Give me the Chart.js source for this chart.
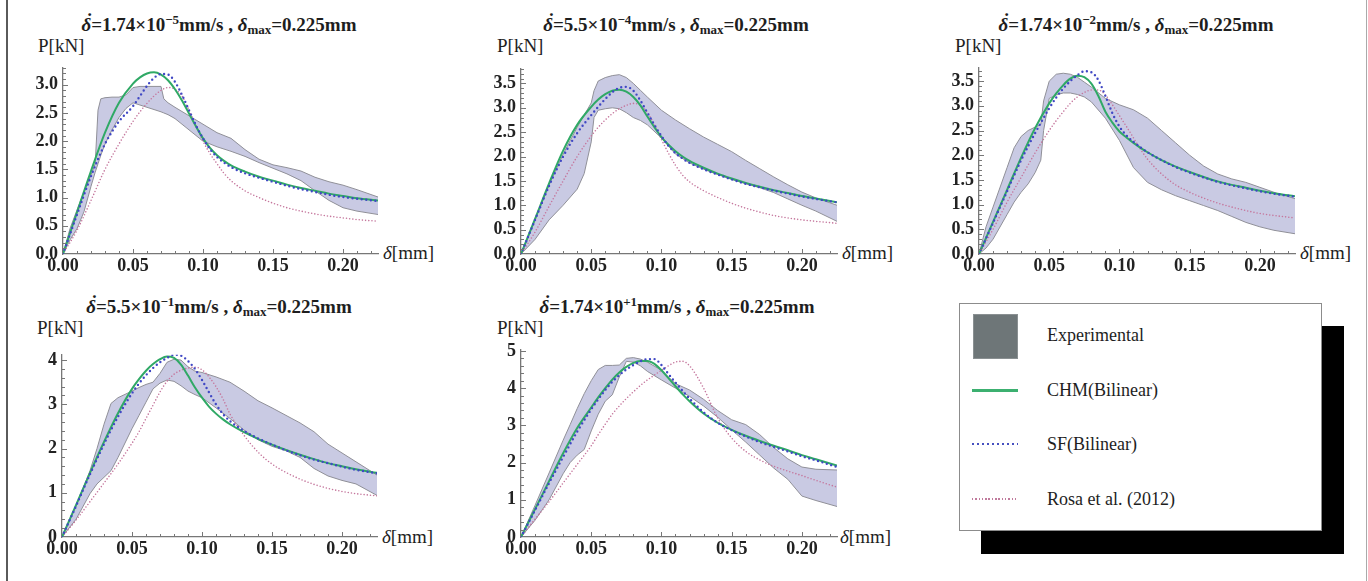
<!DOCTYPE html>
<html>
<head>
<meta charset="utf-8">
<title>P-delta curves</title>
<script src="https://cdn.jsdelivr.net/npm/chart.js@4.4.1/dist/chart.umd.min.js"></script>
<style>
  body { margin: 0; background: #fff; }
  #page { position: relative; width: 1368px; height: 581px; overflow: hidden;
          font-family: "Liberation Serif", "Times New Roman", serif; color: #1e1e1e; }
  .edge { position: absolute; top: 0; height: 581px; }
  canvas { position: absolute; }
  .ttl { position: absolute; width: 400px; text-align: center; font-weight: bold;
         font-size: 19px; line-height: 19px; white-space: nowrap; }
  .ttl sup, .ttl sub { font-size: 13px; position: relative; vertical-align: baseline; line-height: 0; }
  .ttl sup { top: -7px; }
  .ttl sub { top: 3px; }
  .dd { position: relative; }
  .dd .dot { position: absolute; left: 5px; top: -4px; font-style: normal; }
  .ax { position: absolute; font-size: 19px; line-height: 19px; white-space: nowrap; }
  #legend { position: absolute; left: 959px; top: 303px; width: 361px; height: 226px;
            background: #fff; border: 1px solid #8c8c8c; box-shadow: 22px 23px 0 0 #000; }
  #legend .sw { position: absolute; left: 13px; top: 10px; width: 43px; height: 43px;
                background: #6e7678; border: 1px solid #8a9092; }
  #legend .ln { position: absolute; left: 12px; width: 46px; }
  #legend .tx { position: absolute; left: 87px; font-size: 18px; line-height: 18px; white-space: nowrap; }
</style>
</head>
<body>
<div id="page">
  <div class="edge" style="left:6px;width:2px;background:#5a5a5a"></div>
  <div class="edge" style="left:1366px;width:1px;background:#aaa"></div>

  <div class="ttl" style="left:19px;top:15px"><span class="dd"><i>δ</i><span class="dot">˙</span></span>=1.74×10<sup>−5</sup>mm/s , <i>δ</i><sub>max</sub>=0.225mm</div>
  <div class="ttl" style="left:476px;top:15px"><span class="dd"><i>δ</i><span class="dot">˙</span></span>=5.5×10<sup>−4</sup>mm/s , <i>δ</i><sub>max</sub>=0.225mm</div>
  <div class="ttl" style="left:936px;top:15px"><span class="dd"><i>δ</i><span class="dot">˙</span></span>=1.74×10<sup>−2</sup>mm/s , <i>δ</i><sub>max</sub>=0.225mm</div>
  <div class="ttl" style="left:19px;top:297px"><span class="dd"><i>δ</i><span class="dot">˙</span></span>=5.5×10<sup>−1</sup>mm/s , <i>δ</i><sub>max</sub>=0.225mm</div>
  <div class="ttl" style="left:477px;top:297px"><span class="dd"><i>δ</i><span class="dot">˙</span></span>=1.74×10<sup>+1</sup>mm/s , <i>δ</i><sub>max</sub>=0.225mm</div>

  <div class="ax" style="left:38px;top:36px">P[kN]</div>
  <div class="ax" style="left:497px;top:36px">P[kN]</div>
  <div class="ax" style="left:955px;top:36px">P[kN]</div>
  <div class="ax" style="left:37px;top:318px">P[kN]</div>
  <div class="ax" style="left:497px;top:318px">P[kN]</div>

  <div class="ax" style="left:383px;top:243px"><i>δ</i>[mm]</div>
  <div class="ax" style="left:842px;top:243px"><i>δ</i>[mm]</div>
  <div class="ax" style="left:1300px;top:243px"><i>δ</i>[mm]</div>
  <div class="ax" style="left:382px;top:527px"><i>δ</i>[mm]</div>
  <div class="ax" style="left:840px;top:527px"><i>δ</i>[mm]</div>

  <div id="legend">
    <div class="sw"></div>
    <div class="tx" style="top:22px">Experimental</div>
    <div class="ln" style="top:85px;height:3px;background:#3cb070"></div>
    <div class="tx" style="top:77px">CHM(Bilinear)</div>
    <div class="ln" style="top:139px;height:2px;background:repeating-linear-gradient(90deg,#4650c0 0 2px,transparent 2px 5px)"></div>
    <div class="tx" style="top:131px">SF(Bilinear)</div>
    <div class="ln" style="top:194px;height:2px;background:repeating-linear-gradient(90deg,#c07a9c 0 1.5px,transparent 1.5px 3.3px)"></div>
    <div class="tx" style="top:186px">Rosa et al. (2012)</div>
  </div>
</div>

<script>
// displacement grid shared by the three model curves [mm]
const deltaGrid = [0, 0.01, 0.02, 0.03, 0.04, 0.05, 0.055, 0.06, 0.065, 0.07, 0.075, 0.08, 0.085, 0.09, 0.095,
                   0.10, 0.105, 0.11, 0.115, 0.12, 0.13, 0.14, 0.15, 0.16, 0.17, 0.18, 0.19, 0.20, 0.21, 0.225];
const xTicks = [0, 0.05, 0.10, 0.15, 0.20];

// rate 1.74e-5 mm/s
const chm1  = [0, 0.74, 1.47, 2.15, 2.68, 3.02, 3.13, 3.2, 3.22, 3.18, 3.08, 2.92, 2.72, 2.49, 2.26, 2.05, 1.88, 1.75, 1.65, 1.57, 1.46, 1.37, 1.3, 1.23, 1.17, 1.12, 1.07, 1.03, 0.99, 0.95];
const sf1   = [0, 0.7, 1.38, 1.95, 2.35, 2.62, 2.8, 2.98, 3.12, 3.19, 3.18, 3.05, 2.82, 2.55, 2.28, 2.05, 1.86, 1.72, 1.62, 1.54, 1.43, 1.35, 1.28, 1.21, 1.15, 1.1, 1.05, 1.01, 0.98, 0.94];
const rosa1 = [0, 0.42, 0.95, 1.5, 1.95, 2.35, 2.52, 2.67, 2.8, 2.9, 2.95, 2.92, 2.8, 2.55, 2.27, 2.0, 1.78, 1.6, 1.43, 1.3, 1.12, 1.0, 0.9, 0.82, 0.76, 0.71, 0.67, 0.64, 0.61, 0.58];
const expX1  = [0, 0.005, 0.01, 0.015, 0.02, 0.023, 0.025, 0.027, 0.03, 0.035, 0.04, 0.045, 0.05, 0.055, 0.06, 0.065, 0.07, 0.072, 0.075, 0.08, 0.09, 0.10, 0.11, 0.12, 0.13, 0.14, 0.15, 0.16, 0.17, 0.18, 0.19, 0.20, 0.21, 0.225];
const expHi1 = [0, 0.45, 0.78, 1.1, 1.4, 1.6, 2.55, 2.75, 2.77, 2.78, 2.78, 2.82, 2.95, 2.97, 2.97, 2.97, 2.97, 2.75, 2.68, 2.6, 2.45, 2.3, 2.15, 2.05, 1.85, 1.68, 1.58, 1.53, 1.47, 1.36, 1.28, 1.22, 1.14, 1.01];
const expLo1 = [0, 0.25, 0.45, 0.75, 1.2, 1.45, 1.6, 1.75, 1.95, 2.2, 2.42, 2.58, 2.68, 2.64, 2.6, 2.56, 2.52, 2.5, 2.47, 2.4, 2.2, 2.0, 1.9, 1.82, 1.73, 1.62, 1.52, 1.42, 1.3, 1.12, 0.95, 0.82, 0.76, 0.7];
const yTicks1 = [0, 0.5, 1, 1.5, 2, 2.5, 3];

// rate 5.5e-4 mm/s
const chm2  = [0, 0.72, 1.45, 2.12, 2.65, 3.02, 3.17, 3.28, 3.35, 3.37, 3.33, 3.22, 3.05, 2.82, 2.6, 2.4, 2.24, 2.11, 2.0, 1.91, 1.77, 1.65, 1.55, 1.46, 1.38, 1.31, 1.25, 1.19, 1.14, 1.06];
const sf2   = [0, 0.7, 1.4, 2.0, 2.48, 2.85, 3.02, 3.18, 3.32, 3.41, 3.43, 3.35, 3.15, 2.9, 2.65, 2.42, 2.22, 2.07, 1.96, 1.87, 1.74, 1.63, 1.53, 1.44, 1.37, 1.3, 1.24, 1.18, 1.13, 1.06];
const rosa2 = [0, 0.45, 0.98, 1.5, 2.0, 2.42, 2.6, 2.75, 2.88, 2.98, 3.05, 3.09, 3.05, 2.9, 2.65, 2.35, 2.07, 1.82, 1.62, 1.48, 1.3, 1.16, 1.04, 0.94, 0.86, 0.79, 0.74, 0.7, 0.67, 0.63];
const expX2  = [0, 0.01, 0.02, 0.03, 0.04, 0.045, 0.05, 0.052, 0.055, 0.06, 0.065, 0.07, 0.075, 0.08, 0.085, 0.09, 0.10, 0.11, 0.12, 0.13, 0.14, 0.15, 0.16, 0.17, 0.18, 0.19, 0.20, 0.21, 0.225];
const expHi2 = [0, 0.7, 1.42, 2.05, 2.6, 2.85, 3.1, 3.35, 3.55, 3.62, 3.66, 3.68, 3.62, 3.5, 3.36, 3.22, 2.95, 2.75, 2.57, 2.4, 2.25, 2.1, 1.92, 1.75, 1.58, 1.42, 1.27, 1.15, 1.0];
const expLo2 = [0, 0.3, 0.7, 1.0, 1.33, 1.65, 2.3, 2.8, 2.95, 2.98, 3.0, 2.98, 2.9, 2.8, 2.74, 2.65, 2.38, 2.05, 1.87, 1.74, 1.63, 1.53, 1.44, 1.36, 1.26, 1.13, 1.0, 0.88, 0.67];
const yTicks2 = [0, 0.5, 1, 1.5, 2, 2.5, 3, 3.5];

// rate 1.74e-2 mm/s
const chm3  = [0, 0.65, 1.3, 1.95, 2.55, 3.05, 3.25, 3.42, 3.55, 3.61, 3.58, 3.45, 3.2, 2.88, 2.66, 2.48, 2.36, 2.25, 2.15, 2.06, 1.9, 1.77, 1.66, 1.56, 1.47, 1.4, 1.34, 1.28, 1.23, 1.17];
const sf3   = [0, 0.63, 1.27, 1.9, 2.45, 2.95, 3.17, 3.35, 3.5, 3.62, 3.7, 3.68, 3.52, 3.2, 2.85, 2.58, 2.4, 2.27, 2.16, 2.06, 1.9, 1.76, 1.65, 1.55, 1.46, 1.39, 1.33, 1.27, 1.22, 1.16];
const rosa3 = [0, 0.5, 1.05, 1.55, 2.05, 2.5, 2.7, 2.88, 3.05, 3.18, 3.27, 3.32, 3.32, 3.22, 3.02, 2.8, 2.58, 2.35, 2.12, 1.92, 1.62, 1.4, 1.25, 1.13, 1.03, 0.95, 0.88, 0.82, 0.78, 0.73];
const expX3  = [0, 0.005, 0.01, 0.02, 0.025, 0.03, 0.035, 0.04, 0.044, 0.046, 0.05, 0.055, 0.06, 0.065, 0.07, 0.075, 0.08, 0.09, 0.10, 0.11, 0.12, 0.13, 0.14, 0.15, 0.16, 0.17, 0.18, 0.19, 0.20, 0.21, 0.225];
const expHi3 = [0, 0.55, 0.95, 1.75, 2.15, 2.38, 2.5, 2.57, 2.62, 3.1, 3.5, 3.64, 3.66, 3.64, 3.58, 3.48, 3.38, 3.15, 3.02, 2.92, 2.75, 2.5, 2.25, 2.0, 1.78, 1.62, 1.52, 1.45, 1.35, 1.25, 1.12];
const expLo3 = [0, 0.12, 0.3, 0.8, 1.05, 1.25, 1.42, 1.65, 1.9, 2.5, 3.15, 3.22, 3.26, 3.26, 3.23, 3.18, 3.08, 2.75, 2.3, 1.75, 1.45, 1.3, 1.18, 1.08, 0.98, 0.88, 0.76, 0.64, 0.55, 0.48, 0.41];
const yTicks3 = [0, 0.5, 1, 1.5, 2, 2.5, 3, 3.5];

// rate 5.5e-1 mm/s
const chm4  = [0, 0.72, 1.45, 2.15, 2.8, 3.35, 3.57, 3.76, 3.91, 4.02, 4.08, 4.05, 3.9, 3.65, 3.38, 3.15, 2.95, 2.79, 2.66, 2.55, 2.37, 2.22, 2.09, 1.97, 1.86, 1.76, 1.67, 1.6, 1.53, 1.45];
const sf4   = [0, 0.7, 1.42, 2.1, 2.72, 3.25, 3.47, 3.66, 3.82, 3.95, 4.05, 4.12, 4.1, 3.98, 3.8, 3.55, 3.27, 3.0, 2.78, 2.62, 2.4, 2.23, 2.09, 1.96, 1.85, 1.75, 1.67, 1.59, 1.52, 1.44];
const rosa4 = [0, 0.38, 0.8, 1.22, 1.65, 2.12, 2.38, 2.68, 2.98, 3.28, 3.52, 3.68, 3.77, 3.82, 3.84, 3.78, 3.62, 3.4, 3.12, 2.78, 2.3, 1.92, 1.65, 1.46, 1.31, 1.19, 1.1, 1.03, 0.98, 0.93];
const expX4  = [0, 0.01, 0.02, 0.025, 0.03, 0.035, 0.04, 0.05, 0.055, 0.06, 0.065, 0.07, 0.075, 0.08, 0.085, 0.09, 0.095, 0.10, 0.11, 0.12, 0.13, 0.14, 0.15, 0.16, 0.17, 0.18, 0.19, 0.20, 0.21, 0.225];
const expHi4 = [0, 0.7, 1.5, 2.0, 2.55, 3.02, 3.15, 3.3, 3.38, 3.45, 3.5, 3.7, 3.95, 4.02, 4.0, 3.85, 3.75, 3.72, 3.62, 3.5, 3.3, 3.08, 2.92, 2.75, 2.58, 2.38, 2.1, 1.9, 1.7, 1.4];
const expLo4 = [0, 0.4, 0.98, 1.2, 1.35, 1.5, 1.8, 2.45, 2.75, 3.05, 3.35, 3.48, 3.55, 3.52, 3.42, 3.3, 3.22, 3.15, 2.92, 2.68, 2.42, 2.2, 2.05, 1.95, 1.8, 1.55, 1.38, 1.28, 1.2, 0.94];
const yTicks4 = [0, 1, 2, 3, 4];

// rate 1.74e+1 mm/s
const chm5  = [0, 0.75, 1.5, 2.25, 2.93, 3.48, 3.75, 4.0, 4.23, 4.42, 4.57, 4.68, 4.73, 4.73, 4.65, 4.48, 4.27, 4.05, 3.84, 3.65, 3.32, 3.07, 2.88, 2.72, 2.58, 2.45, 2.33, 2.2, 2.09, 1.92];
const sf5   = [0, 0.72, 1.45, 2.15, 2.83, 3.43, 3.7, 3.95, 4.17, 4.35, 4.5, 4.62, 4.72, 4.78, 4.78, 4.62, 4.38, 4.15, 3.93, 3.72, 3.35, 3.07, 2.87, 2.7, 2.55, 2.42, 2.3, 2.17, 2.06, 1.88];
const rosa5 = [0, 0.48, 0.95, 1.45, 1.95, 2.45, 2.75, 3.03, 3.3, 3.52, 3.72, 3.9, 4.07, 4.22, 4.35, 4.48, 4.6, 4.7, 4.72, 4.6, 4.0, 3.2, 2.66, 2.3, 2.07, 1.9, 1.77, 1.65, 1.52, 1.34];
const expX5  = [0, 0.01, 0.02, 0.03, 0.035, 0.04, 0.045, 0.05, 0.055, 0.06, 0.065, 0.07, 0.075, 0.08, 0.085, 0.09, 0.10, 0.11, 0.12, 0.13, 0.14, 0.15, 0.16, 0.17, 0.18, 0.19, 0.20, 0.21, 0.225];
const expHi5 = [0, 0.85, 1.72, 2.6, 3.02, 3.45, 3.85, 4.2, 4.5, 4.61, 4.61, 4.62, 4.8, 4.82, 4.78, 4.7, 4.48, 4.12, 3.95, 3.7, 3.4, 3.15, 3.02, 2.75, 2.4, 2.1, 1.88, 1.82, 1.8];
const expLo5 = [0, 0.45, 1.0, 1.7, 2.0, 2.2, 2.35, 2.85, 3.3, 3.65, 3.82, 4.3, 4.72, 4.7, 4.6, 4.45, 4.22, 4.0, 3.78, 3.52, 3.22, 2.88, 2.55, 2.2, 1.85, 1.55, 1.1, 0.98, 0.82];
const yTicks5 = [0, 1, 2, 3, 4, 5];

const GREEN = '#30a966';
const BLUE = '#4048c4';
const PINK = '#c5779d';
const BAND = '#c9cae3';
const BAND_EDGE = '#909098';
const AXIS = '#777';
const TXT = '#222';
const tickFont = { family: 'Liberation Serif', size: 18, weight: 'bold' };

// plot-area box on the page: [left, top, right, bottom]
const panels = [
  { box: [63, 60, 378, 254],  chm: chm1, sf: sf1, rosa: rosa1, expX: expX1, hi: expHi1, lo: expLo1, yTicks: yTicks1, yMax: 3.3,  digits: 1, minor: 0.1 },
  { box: [521, 61, 837, 254], chm: chm2, sf: sf2, rosa: rosa2, expX: expX2, hi: expHi2, lo: expLo2, yTicks: yTicks2, yMax: 3.8,  digits: 1, minor: 0.1 },
  { box: [979, 60, 1295, 254], chm: chm3, sf: sf3, rosa: rosa3, expX: expX3, hi: expHi3, lo: expLo3, yTicks: yTicks3, yMax: 3.77, digits: 1, minor: 0.1 },
  { box: [62, 347, 377, 537], chm: chm4, sf: sf4, rosa: rosa4, expX: expX4, hi: expHi4, lo: expLo4, yTicks: yTicks4, yMax: 4.12, digits: 0, minor: 0.2 },
  { box: [521, 342, 837, 537], chm: chm5, sf: sf5, rosa: rosa5, expX: expX5, hi: expHi5, lo: expLo5, yTicks: yTicks5, yMax: 5.03, digits: 0, minor: 0.2 }
];

function pts(xs, ys) {
  return xs.map((x, i) => ({ x: x, y: ys[i] }));
}

// Mathematica-style inward tick marks, major + minor
const tickMarks = {
  id: 'tickMarks',
  afterDraw(chart, args, opts) {
    const { ctx, scales: { x, y } } = chart;
    ctx.save();
    ctx.strokeStyle = AXIS;
    ctx.lineWidth = 1;
    ctx.beginPath();
    for (let k = 1; k * 0.01 <= x.max + 1e-9; k++) {
      const v = k * 0.01;
      const major = xTicks.some(t => Math.abs(t - v) < 1e-9);
      const px = Math.round(x.getPixelForValue(v)) + 0.5;
      ctx.moveTo(px, y.bottom);
      ctx.lineTo(px, y.bottom - (major ? 5 : 3));
    }
    for (let k = 1; k * opts.minor <= y.max + 1e-9; k++) {
      const v = k * opts.minor;
      const major = opts.yTicks.some(t => Math.abs(t - v) < 1e-9);
      const py = Math.round(y.getPixelForValue(v)) + 0.5;
      ctx.moveTo(x.left, py);
      ctx.lineTo(x.left + (major ? 5 : 3), py);
    }
    ctx.stroke();
    ctx.restore();
  }
};

const page = document.getElementById('page');

panels.forEach(p => {
  const [l, t, r, b] = p.box;
  const cv = document.createElement('canvas');
  cv.width = r - l + 60;
  cv.height = b - t + 38;
  cv.style.left = (l - 50) + 'px';
  cv.style.top = (t - 8) + 'px';
  page.appendChild(cv);

  new Chart(cv.getContext('2d'), {
    type: 'line',
    data: {
      datasets: [
        { label: 'SF(Bilinear)', data: pts(deltaGrid, p.sf), borderColor: BLUE, borderWidth: 2.4,
          borderDash: [0, 4.6], borderCapStyle: 'round', cubicInterpolationMode: 'monotone', pointRadius: 0, fill: false },
        { label: 'CHM(Bilinear)', data: pts(deltaGrid, p.chm), borderColor: GREEN, borderWidth: 2,
          cubicInterpolationMode: 'monotone', pointRadius: 0, fill: false },
        { label: 'Rosa et al. (2012)', data: pts(deltaGrid, p.rosa), borderColor: PINK, borderWidth: 1.6,
          borderDash: [0, 3.2], borderCapStyle: 'round', cubicInterpolationMode: 'monotone', pointRadius: 0, fill: false },
        { label: 'Experimental', data: pts(p.expX, p.hi), borderColor: BAND_EDGE, borderWidth: 1,
          backgroundColor: BAND, pointRadius: 0, fill: '+1' },
        { label: 'Experimental low', data: pts(p.expX, p.lo), borderColor: BAND_EDGE, borderWidth: 1,
          pointRadius: 0, fill: false }
      ]
    },
    options: {
      responsive: false,
      animation: false,
      devicePixelRatio: 1,
      events: [],
      layout: { padding: { top: 8, right: 10, left: 0, bottom: 0 } },
      plugins: {
        legend: { display: false },
        tooltip: { enabled: false },
        filler: { drawTime: 'beforeDatasetsDraw' },
        tickMarks: { minor: p.minor, yTicks: p.yTicks }
      },
      scales: {
        x: {
          type: 'linear', min: 0, max: 0.225,
          grid: { display: false, drawTicks: false },
          border: { display: true, color: AXIS, width: 1.3 },
          afterFit: s => { s.height = 30; },
          afterBuildTicks: s => { s.ticks = xTicks.map(v => ({ value: v })); },
          ticks: { padding: 2, color: TXT, font: tickFont, maxRotation: 0, autoSkip: false,
                   callback: v => v.toFixed(2) }
        },
        y: {
          type: 'linear', min: 0, max: p.yMax,
          grid: { display: false, drawTicks: false },
          border: { display: true, color: AXIS, width: 1.3 },
          afterFit: s => { s.width = 50; },
          afterBuildTicks: s => { s.ticks = p.yTicks.map(v => ({ value: v })); },
          ticks: { padding: 5, color: TXT, font: tickFont, autoSkip: false,
                   callback: v => v.toFixed(p.digits) }
        }
      }
    },
    plugins: [tickMarks]
  });
});
</script>
</body>
</html>
